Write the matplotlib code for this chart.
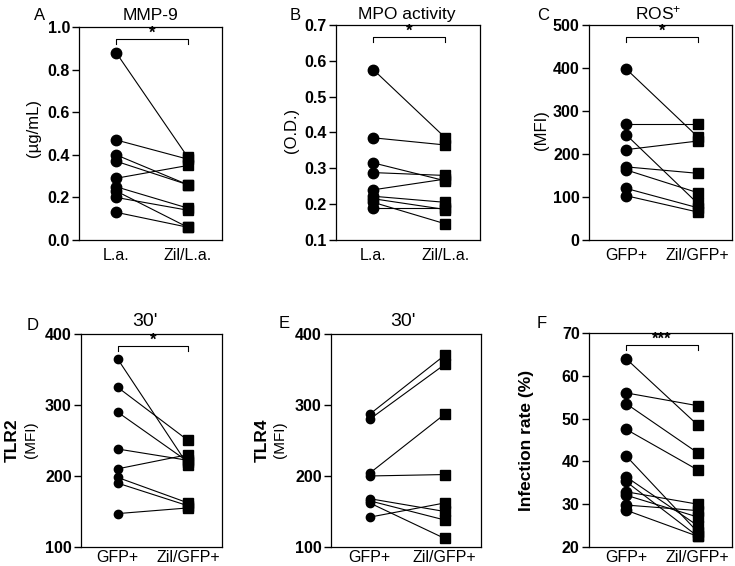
import matplotlib
matplotlib.use("Agg")
import matplotlib.pyplot as plt

plt.rcParams['font.family'] = ['Liberation Sans', 'DejaVu Sans']
plt.rcParams['mathtext.default'] = 'regular'

# ---------------------------------------------------------------------------
# Datos
# ---------------------------------------------------------------------------
mmp9_la = [0.88, 0.47, 0.40, 0.37, 0.29, 0.25, 0.23, 0.20, 0.13]
mmp9_zil = [0.39, 0.38, 0.26, 0.26, 0.35, 0.15, 0.06, 0.14, 0.06]

mpo_la = [0.575, 0.385, 0.315, 0.288, 0.24, 0.222, 0.215, 0.205, 0.19]
mpo_zil = [0.385, 0.365, 0.265, 0.28, 0.27, 0.205, 0.185, 0.145, 0.19]

ros_gfp = [398, 270, 245, 210, 170, 163, 120, 103]
ros_zil = [240, 270, 85, 230, 155, 110, 75, 65]

tlr2_gfp = [365, 325, 290, 238, 210, 198, 190, 147]
tlr2_zil = [215, 250, 220, 222, 230, 162, 158, 155]

tlr4_gfp = [287, 280, 204, 200, 168, 165, 162, 142]
tlr4_zil = [370, 357, 287, 202, 150, 138, 112, 162]

inf_gfp = [64, 56, 53.5, 47.5, 41.3, 36.4, 35.3, 32.9, 32.1, 29.8, 28.6]
inf_zil = [48.5, 53, 42, 38, 23.5, 25, 22.5, 30, 27, 28.5, 22.5]

grupos_la = ['L.a.', 'Zil/L.a.']
grupos_gfp = ['GFP+', 'Zil/GFP+']


def panel(rect, antes, despues, grupos, ylim, yticks, fmt, marker_size=7.5, sq_size=6.5,
          sig=None, xpad=6):
    ax = fig.add_axes(rect)
    for a, b in zip(antes, despues):
        ax.plot([0, 1], [a, b], color='black', lw=0.8, zorder=2)
    ax.plot([0] * len(antes), antes, 'o', color='black', ms=marker_size, zorder=3)
    ax.plot([1] * len(despues), despues, 's', color='black', ms=sq_size, zorder=3)
    ax.set_xlim(-0.52, 1.48)
    ax.set_ylim(*ylim)
    ax.set_yticks(yticks)
    ax.set_yticklabels([fmt.format(v) for v in yticks], fontweight='bold', fontsize=11.5)
    ax.set_xticks([0, 1])
    ax.set_xticklabels(grupos, fontsize=11.5)
    ax.tick_params(axis='x', length=0, pad=xpad)
    ax.tick_params(axis='y', length=5, width=1, pad=1.5)
    for s in ax.spines.values():
        s.set_linewidth(0.9)
    if sig is not None:
        rango = ylim[1] - ylim[0]
        y = ylim[1] - 0.055 * rango
        ax.plot([0, 0, 1, 1], [y - 0.025 * rango, y, y, y - 0.025 * rango], color='black', lw=0.8)
        ax.text(0.5, y - 0.008 * rango, sig, ha='center', va='bottom', fontsize=12, fontweight='bold')
    return ax


fig = plt.figure(figsize=(7.35, 5.66), dpi=100)

# fila superior
panel([0.1075, 0.576, 0.1945, 0.376], mmp9_la, mmp9_zil, grupos_la, (0, 1.0),
      [0.0, 0.2, 0.4, 0.6, 0.8, 1.0], '{:.1f}', sig='*')
panel([0.457, 0.576, 0.196, 0.380], mpo_la, mpo_zil, grupos_la, (0.1, 0.7),
      [0.1, 0.2, 0.3, 0.4, 0.5, 0.6, 0.7], '{:.1f}', sig='*')
panel([0.801, 0.576, 0.195, 0.380], ros_gfp, ros_zil, grupos_gfp, (0, 500),
      [0, 100, 200, 300, 400, 500], '{:d}', sig='*')

# fila inferior
panel([0.110, 0.0336, 0.192, 0.3764], tlr2_gfp, tlr2_zil, grupos_gfp, (100, 400),
      [100, 200, 300, 400], '{:d}', marker_size=6, sq_size=6.5, sig='*', xpad=2)
panel([0.450, 0.0336, 0.204, 0.3764], tlr4_gfp, tlr4_zil, grupos_gfp, (100, 400),
      [100, 200, 300, 400], '{:d}', marker_size=6, sq_size=6.5, xpad=2)
panel([0.801, 0.0336, 0.195, 0.3782], inf_gfp, inf_zil, grupos_gfp, (20, 70),
      [20, 30, 40, 50, 60, 70], '{:d}', sig='***', xpad=2)


def texto(x, y, s, **kw):
    fig.text(x / 735, 1 - y / 566, s, ha='center', va='center', **kw)


# letras y titulos
texto(40, 15, 'A', fontsize=12)
texto(150, 15, 'MMP-9', fontsize=12.5)
texto(295, 16, 'B', fontsize=12)
texto(407, 15, 'MPO activity', fontsize=12.5)
texto(543, 16, 'C', fontsize=12)
texto(658, 13, 'ROS$^{+}$', fontsize=12.5)
texto(33, 325, 'D', fontsize=12)
texto(145, 322, "30'", fontsize=14)
texto(284, 324, 'E', fontsize=12)
texto(403, 322, "30'", fontsize=14)
texto(542, 323, 'F', fontsize=12)

# etiquetas de ejes
texto(34, 128, '(µg/mL)', fontsize=12, rotation=90)
texto(291, 130, '(O.D.)', fontsize=12, rotation=90)
texto(541, 130, '(MFI)', fontsize=12, rotation=90)
texto(12, 440, 'TLR2', fontsize=12.5, fontweight='bold', rotation=90)
texto(31, 440, '(MFI)', fontsize=11, rotation=90)
texto(262, 440, 'TLR4', fontsize=12.5, fontweight='bold', rotation=90)
texto(280, 440, '(MFI)', fontsize=11, rotation=90)
texto(526, 440, 'Infection rate (%)', fontsize=12.5, fontweight='bold', rotation=90)

fig.savefig('out.png', dpi=100)
